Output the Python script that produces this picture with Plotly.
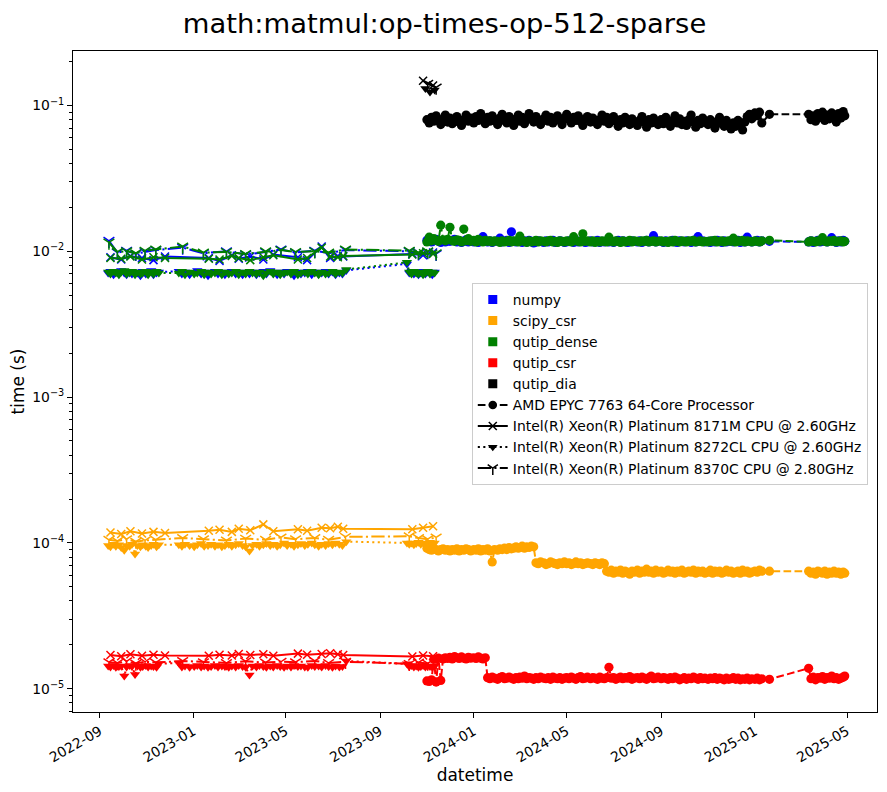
import plotly.graph_objects as go

# libraries -> colour, cpus -> line style / marker (same scheme as the matplotlib plot)
libraries = ["numpy", "scipy_csr", "qutip_dense", "qutip_csr", "qutip_dia"]
lib_colors = ["blue", "orange", "green", "red", "black"]
cpus = ["AMD EPYC 7763 64-Core Processor",
        "Intel(R) Xeon(R) Platinum 8171M CPU @ 2.60GHz",
        "Intel(R) Xeon(R) Platinum 8272CL CPU @ 2.60GHz",
        "Intel(R) Xeon(R) Platinum 8370C CPU @ 2.80GHz"]

x_tick_vals = ["2022-09-01", "2023-01-01", "2023-05-01", "2023-09-01", "2024-01-01",
               "2024-05-01", "2024-09-01", "2025-01-01", "2025-05-01"]
x_tick_text = ["2022-09", "2023-01", "2023-05", "2023-09", "2024-01",
               "2024-05", "2024-09", "2025-01", "2025-05"]
y_tick_vals = [1e-5, 1e-4, 1e-3, 1e-2, 1e-1]
y_tick_text = ["10<sup>−5</sup>", "10<sup>−4</sup>", "10<sup>−3</sup>", "10<sup>−2</sup>", "10<sup>−1</sup>"]

# ---------------------------------------------------------------- AMD EPYC 7763
# run days per month (one line of values per month below)
amd_run_days = {
    "2023-11": [1, 4, 7, 10, 13, 16, 19, 22, 25, 28],
    "2023-12": [1, 4, 7, 10, 13, 16, 19, 22, 25, 28],
    "2024-01": [1, 4, 7, 10, 13, 16, 19, 22, 25, 28],
    "2024-02": [1, 4, 7, 10, 13, 16, 19, 22, 25, 28],
    "2024-03": [1, 4, 7, 10, 13, 16, 19, 22, 25, 28],
    "2024-04": [1, 4, 7, 10, 13, 16, 19, 22, 25, 28],
    "2024-05": [1, 4, 7, 10, 13, 16, 19, 22, 25, 28],
    "2024-06": [1, 4, 7, 10, 13, 16, 19, 22, 25, 28],
    "2024-07": [1, 4, 7, 10, 13, 16, 19, 22, 25, 28],
    "2024-08": [1, 4, 7, 10, 13, 16, 19, 22, 25, 28],
    "2024-09": [1, 4, 7, 10, 13, 16, 19, 22, 25, 28],
    "2024-10": [1, 4, 7, 10, 13, 16, 19, 22, 25, 28],
    "2024-11": [1, 4, 7, 10, 13, 16, 19, 22, 25, 28],
    "2024-12": [1, 4, 7, 10, 13, 16, 19, 22, 25, 28],
    "2025-01": [1, 4, 7, 10, 20],
    "2025-03": [12, 15, 18, 21, 24, 27, 30],
    "2025-04": [2, 5, 8, 11, 14, 17, 20, 23, 26, 28],
}
amd_dates = [f"{m}-{d:02d}" for m, days in amd_run_days.items() for d in days]

amd_numpy_ms = [
    11.9, 12.3, 11.6, 11.8, 12.1, 11.7, 11.5, 11.9, 11.6, 11.8,
    11.7, 11.9, 12.1, 11.6, 11.8, 11.5, 11.7, 12.0, 11.6, 11.8,
    11.6, 11.8, 11.5, 11.9, 12.6, 11.7, 11.6, 11.8, 11.5, 11.7,
    11.8, 12.3, 11.6, 11.7, 11.9, 11.5, 13.6, 11.7, 11.6, 11.8,
    11.7, 11.5, 11.8, 11.6, 11.9, 11.7, 11.4, 11.6, 11.8, 11.7,
    11.5, 11.8, 11.6, 11.7, 11.9, 11.5, 11.6, 11.8, 11.7, 11.5,
    11.6, 11.8, 11.7, 11.5, 11.9, 11.6, 11.7, 11.8, 11.5, 11.6,
    11.8, 11.6, 11.7, 11.9, 11.5, 11.7, 11.6, 11.8, 11.6, 11.7,
    11.5, 11.7, 11.9, 11.6, 11.8, 11.7, 11.5, 11.6, 11.8, 11.7,
    11.6, 11.8, 11.5, 11.7, 11.9, 11.6, 11.7, 12.8, 11.6, 11.8,
    11.7, 11.5, 11.8, 11.6, 11.7, 11.9, 11.6, 11.5, 11.8, 11.7,
    11.6, 11.8, 11.7, 11.5, 11.9, 11.6, 12.6, 11.7, 11.8, 11.6,
    11.7, 11.5, 11.8, 11.6, 11.9, 11.7, 11.5, 11.8, 11.6, 11.7,
    11.8, 11.6, 11.7, 11.9, 11.5, 11.7, 11.6, 12.5, 11.8, 11.6,
    11.7, 11.9, 11.6, 11.8, 11.7,
    11.6, 11.8, 11.5, 11.7, 11.9, 11.6, 11.8,
    11.7, 11.6, 11.8, 12.4, 11.7, 11.5, 11.8, 11.6, 11.9, 11.7]
amd_scipy_us = [
    92, 90, 89, 91, 90, 88, 90, 91, 89, 90,
    88, 90, 89, 91, 88, 90, 89, 91, 90, 88,
    90, 89, 91, 88, 90, 89, 91, 88, 74, 90,
    89, 91, 90, 92, 90, 93, 91, 92, 94, 92,
    93, 95, 92, 94, 93, 95, 94, 73, 72, 74,
    73, 71, 72, 74, 73, 72, 71, 73, 72, 74,
    72, 73, 71, 72, 74, 72, 73, 71, 72, 73,
    72, 71, 73, 72, 71, 73, 72, 64, 63, 65,
    62, 64, 63, 65, 62, 64, 63, 61, 64, 63,
    65, 62, 64, 63, 66, 63, 64, 62, 65, 63,
    64, 62, 63, 65, 63, 64, 62, 64, 63, 65,
    62, 63, 64, 63, 65, 62, 64, 63, 64, 62,
    63, 65, 62, 64, 63, 64, 62, 63, 65, 63,
    64, 62, 63, 64, 62, 65, 63, 64, 62, 63,
    64, 63, 65, 64, 64,
    64, 62, 63, 61, 64, 63, 62,
    64, 61, 63, 62, 64, 62, 63, 61, 63, 62]
amd_dense_ms = [
    11.6, 12.5, 11.8, 12.2, 11.9, 11.7, 15.1, 12.0, 11.8, 12.1,
    14.6, 11.8, 11.7, 12.0, 11.9, 11.6, 14.2, 11.8, 12.2, 11.7,
    11.9, 11.6, 12.1, 11.8, 11.6, 11.9, 11.7, 11.8, 11.6, 11.8,
    11.7, 11.5, 11.8, 11.6, 11.7, 11.9, 11.6, 11.8, 11.7, 11.6,
    12.7, 11.8, 11.7, 11.5, 11.8, 11.6, 11.7, 11.9, 11.6, 11.8,
    11.7, 11.6, 11.8, 11.9, 11.6, 11.7, 11.5, 11.8, 11.7, 11.6,
    11.8, 11.7, 11.6, 12.6, 11.8, 11.7, 11.6, 13.2, 11.7, 11.8,
    11.6, 11.8, 11.5, 11.7, 11.6, 11.8, 11.7, 11.6, 12.5, 11.7,
    11.6, 11.8, 11.7, 11.5, 11.8, 11.6, 11.7, 11.9, 11.6, 11.8,
    11.7, 11.6, 11.8, 11.7, 11.9, 11.6, 11.7, 11.8, 11.6, 11.7,
    11.8, 11.6, 11.7, 11.5, 11.8, 11.6, 11.9, 11.7, 11.6, 11.8,
    11.7, 11.6, 11.8, 11.7, 11.9, 11.6, 11.7, 11.8, 11.6, 11.7,
    11.6, 11.8, 11.7, 11.9, 11.6, 11.7, 11.8, 11.6, 11.7, 11.8,
    11.7, 12.3, 11.6, 11.8, 11.7, 11.9, 11.6, 11.8, 11.7, 11.6,
    11.8, 11.7, 11.6, 11.8, 11.9,
    11.6, 11.8, 11.7, 11.6, 11.8, 11.7, 12.4,
    11.7, 11.6, 11.8, 11.7, 11.9, 11.6, 11.7, 11.8, 11.6, 11.7]
amd_csr_us = [
    11.3, 11.2, 11.5, 15.9, 11.1, 16.2, 11.4, 16.0, 16.3, 16.1,
    16.4, 16.0, 16.6, 16.3, 16.1, 16.5, 16.2, 16.0, 16.4, 16.2,
    16.3, 16.1, 16.5, 16.2, 16.0, 16.3, 11.9, 11.7, 12.0, 11.8,
    11.6, 11.9, 12.1, 11.7, 11.8, 12.0, 11.8, 11.6, 11.9, 11.7,
    12.0, 11.8, 12.2, 11.7, 11.9, 11.8, 11.6, 11.9, 11.7, 12.0,
    11.8, 11.7, 11.9, 11.6, 12.0, 11.8, 11.7, 11.9, 11.6, 11.8,
    11.9, 11.7, 12.0, 11.8, 11.6, 11.9, 12.1, 11.7, 11.8, 12.0,
    11.7, 11.9, 11.8, 11.6, 12.0, 11.8, 11.7, 11.9, 14.0, 11.8,
    11.9, 11.6, 11.8, 12.0, 11.7, 11.9, 11.8, 12.1, 11.6, 11.8,
    11.9, 11.7, 12.0, 11.8, 11.6, 11.9, 12.2, 11.7, 11.8, 12.0,
    11.7, 11.9, 11.8, 11.6, 11.9, 11.7, 12.0, 11.8, 11.5, 11.7,
    11.9, 11.6, 11.8, 11.7, 12.0, 11.8, 11.6, 11.9, 11.7, 11.8,
    11.6, 11.8, 11.7, 11.9, 11.6, 11.8, 11.7, 11.5, 11.8, 11.6,
    11.7, 11.9, 11.6, 11.8, 11.5, 11.7, 11.6, 11.8, 11.5, 11.7,
    11.6, 11.8, 11.5, 11.7, 11.6,
    13.8, 11.7, 12.0, 11.5, 11.9, 11.8, 12.1,
    11.6, 11.9, 11.8, 12.2, 11.7, 11.9, 11.6, 11.8, 12.0, 12.2]
amd_dia_ms = [
    80, 76, 83, 78, 85, 79, 74, 81, 86, 77,
    82, 75, 79, 84, 77, 73, 80, 86, 78, 82,
    76, 84, 79, 88, 81, 75, 83, 78, 85, 80,
    74, 82, 87, 79, 76, 84, 80, 73, 81, 86,
    78, 83, 75, 80, 88, 82, 77, 84, 79, 74,
    81, 86, 78, 83, 76, 80, 85, 79, 74, 82,
    87, 80, 76, 83, 79, 85, 78, 73, 81, 84,
    77, 82, 79, 74, 80, 86, 78, 83, 75, 79,
    84, 78, 72, 80, 76, 83, 79, 74, 81, 77,
    73, 79, 84, 77, 71, 80, 76, 82, 78, 74,
    80, 75, 83, 78, 72, 79, 85, 76, 81, 74,
    78, 73, 80, 86, 77, 71, 79, 75, 82, 77,
    74, 80, 76, 70, 78, 83, 75, 72, 79, 73,
    69, 76, 72, 79, 74, 68, 77, 84, 87, 81,
    89, 85, 90, 76, 87,
    87, 80, 85, 78, 88, 83, 90,
    79, 86, 81, 89, 84, 77, 88, 82, 91, 85]

# ---------------------------------------------------------------- Intel 8171M
i8171_dates = [
    "2022-09-15", "2022-09-29", "2022-10-11", "2022-10-26", "2022-11-10", "2022-11-25",
    "2023-01-21", "2023-02-04", "2023-02-20", "2023-03-01", "2023-03-16", "2023-04-02",
    "2023-04-15", "2023-05-17", "2023-05-29", "2023-06-17", "2023-06-28", "2023-07-08",
    "2023-07-15", "2023-10-13", "2023-10-27", "2023-11-09"]
i8171_numpy_ms = [9.1, 8.8, 9.3, 9.0, 8.7, 9.2, 9.0, 8.6, 9.4, 8.9, 9.2,
                  8.8, 9.5, 9.1, 8.7, 10.8, 9.0, 9.3, 9.2, 9.6, 9.4, 9.8]
i8171_scipy_us = [118, 115, 120, 116, 119, 117, 121, 123, 119, 125, 122,
                  134, 120, 124, 121, 127, 126, 129, 125, 124, 127, 130]
i8171_dense_ms = [9.0, 8.9, 9.2, 8.8, 9.1, 9.0, 8.9, 8.8, 9.3, 9.0, 8.7,
                  9.1, 9.4, 8.8, 9.0, 10.6, 9.2, 9.1, 9.3, 9.5, 9.7, 9.6]
i8171_csr_us = [17.0, 16.7, 17.2, 16.8, 17.1, 16.9, 16.8, 17.1, 16.9, 17.3, 17.0,
                17.2, 16.8, 17.4, 17.1, 17.3, 17.5, 17.2, 17.0, 16.6, 16.9, 16.7]
i8171_dia_dates = ["2023-10-27", "2023-11-09"]
i8171_dia_ms = [148, 137]

# ---------------------------------------------------------------- Intel 8272CL
i8272_dates = [
    "2022-09-12", "2022-09-15", "2022-09-19", "2022-09-22", "2022-09-26", "2022-09-29",
    "2022-10-03", "2022-10-06", "2022-10-10", "2022-10-13", "2022-10-17", "2022-10-20",
    "2022-10-24", "2022-10-27", "2022-10-31", "2022-11-03", "2022-11-07", "2022-11-10",
    "2022-11-14", "2022-11-17",
    "2022-12-13", "2022-12-17", "2022-12-21", "2022-12-27", "2023-01-02", "2023-01-06",
    "2023-01-11", "2023-01-15", "2023-01-20", "2023-01-24", "2023-01-29", "2023-02-02",
    "2023-02-07", "2023-02-11", "2023-02-16", "2023-02-20", "2023-02-25", "2023-03-01",
    "2023-03-06", "2023-03-10", "2023-03-15", "2023-03-19", "2023-03-24", "2023-03-28",
    "2023-04-02", "2023-04-06", "2023-04-11", "2023-04-15", "2023-04-20", "2023-04-24",
    "2023-04-29", "2023-05-03", "2023-05-08", "2023-05-12", "2023-05-17", "2023-05-21",
    "2023-05-26", "2023-05-30", "2023-06-04", "2023-06-08", "2023-06-13", "2023-06-17",
    "2023-06-22", "2023-06-26", "2023-07-01", "2023-07-05", "2023-07-10", "2023-07-14",
    "2023-07-19",
    "2023-10-06", "2023-10-09", "2023-10-12", "2023-10-15", "2023-10-18", "2023-10-21",
    "2023-10-24", "2023-10-27", "2023-10-30", "2023-11-02", "2023-11-05", "2023-11-08",
    "2023-11-11"]
i8272_numpy_ms = [
    7.1, 7.3, 6.9, 7.2, 7.0, 7.4, 7.1, 6.9, 7.3, 7.0, 7.2, 7.1, 6.8, 7.3, 7.0, 7.2, 7.4, 6.9, 7.1, 7.2,
    7.3, 7.0, 7.2, 6.9, 7.1, 7.4, 7.0, 7.2, 6.8, 7.1, 7.3, 7.0, 7.2, 6.9, 7.1, 7.3, 7.0, 7.2, 6.9, 7.1,
    7.0, 7.2, 6.9, 7.1, 7.3, 7.0, 7.4, 7.1, 6.9, 7.2, 7.0, 7.3, 7.1, 6.8, 7.2, 7.0, 7.1, 7.3, 6.9, 7.2,
    7.0, 7.1, 7.3, 7.0, 7.2, 6.9, 7.1, 7.0, 7.4,
    8.2, 7.1, 7.3, 7.0, 7.2, 6.9, 7.1, 7.3, 7.0, 7.2, 7.1, 6.9, 7.2]
i8272_scipy_us = [
    96, 94, 98, 95, 97, 93, 89, 96, 95, 98, 84, 96, 94, 97, 95, 93, 96, 98, 94, 97,
    97, 95, 98, 96, 94, 97, 99, 95, 96, 98, 95, 97, 94, 96, 98, 95, 97, 99, 96, 94,
    88, 96, 98, 95, 97, 99, 96, 98, 95, 97, 100, 96, 98, 95, 97, 99, 96, 98, 100, 97,
    95, 98, 96, 99, 97, 100, 98, 96, 102,
    100, 98, 100, 97, 99, 101, 98, 100, 97, 99, 101, 98, 100]
i8272_dense_ms = [
    7.2, 7.0, 7.3, 7.1, 6.9, 7.2, 7.4, 7.0, 7.1, 7.3, 6.9, 7.2, 7.0, 7.1, 7.3, 6.9, 7.2, 7.0, 7.3, 7.1,
    7.1, 7.3, 6.9, 7.2, 7.0, 7.1, 7.3, 6.9, 7.2, 7.0, 7.1, 7.3, 6.9, 7.2, 7.0, 7.1, 7.3, 6.9, 7.2, 7.0,
    7.3, 7.1, 7.0, 7.2, 6.8, 7.1, 7.3, 7.0, 7.2, 6.9, 7.1, 7.2, 7.0, 7.3, 6.9, 7.1, 7.2, 7.0, 7.3, 7.1,
    6.9, 7.2, 7.0, 7.1, 7.3, 7.0, 7.2, 7.1, 7.5,
    8.4, 7.2, 7.0, 7.3, 7.1, 7.0, 7.2, 6.9, 7.1, 7.3, 7.0, 7.2, 7.1]
i8272_csr_us = [
    14.3, 14.1, 14.4, 14.0, 14.2, 14.3, 12.2, 14.1, 14.4, 14.2, 12.5, 14.3, 14.0, 14.2, 14.4, 14.1,
    14.3, 14.2, 14.0, 14.8,
    15.0, 14.1, 14.3, 14.0, 14.2, 14.4, 14.1, 14.3, 14.0, 14.2, 14.4, 14.1, 14.3, 14.2, 14.0, 14.3,
    14.1, 14.4, 14.2, 14.0, 12.4, 14.3, 14.1, 14.4, 14.2, 14.0, 14.3, 14.1, 14.4, 14.2, 14.0, 14.3,
    14.1, 14.4, 14.2, 14.3, 14.1, 14.0, 14.4, 14.2, 14.3, 14.1, 14.4, 14.2, 14.0, 14.3, 14.1, 14.2,
    15.5,
    14.8, 14.2, 14.4, 14.1, 14.3, 14.0, 14.2, 14.4, 14.1, 14.3, 14.2, 14.0, 14.3]
i8272_dia_dates = ["2023-10-30", "2023-11-05", "2023-11-11"]
i8272_dia_ms = [131, 124, 128]

# ---------------------------------------------------------------- Intel 8370C
i8370_dates = [
    "2022-09-13", "2022-09-24", "2022-10-06", "2022-10-18", "2022-10-30", "2022-11-13",
    "2022-12-18", "2023-01-14", "2023-02-13", "2023-03-10", "2023-04-05", "2023-04-25",
    "2023-05-14", "2023-06-08", "2023-06-26", "2023-07-18",
    "2023-10-09", "2023-10-21", "2023-11-02", "2023-11-13"]
i8370_numpy_ms = [11.8, 9.8, 10.1, 9.6, 9.9, 10.2, 10.6, 9.7, 10.0, 9.5,
                  9.9, 10.3, 9.8, 10.1, 9.7, 10.2, 10.0, 9.7, 9.9, 9.6]
i8370_scipy_us = [105, 103, 106, 102, 104, 105, 108, 106, 104, 107,
                  105, 109, 106, 108, 105, 110, 111, 108, 106, 109]
i8370_dense_ms = [11.5, 9.9, 10.0, 9.7, 10.1, 10.3, 10.8, 9.8, 9.9, 9.6,
                  10.0, 10.2, 9.9, 10.0, 9.8, 10.3, 10.1, 9.8, 10.0, 9.7]
i8370_csr_us = [15.2, 15.0, 15.4, 14.9, 15.3, 15.1, 15.5, 15.2, 15.0, 15.4,
                15.1, 15.3, 15.2, 15.5, 15.0, 15.3, 14.8, 15.1, 14.9, 15.2]
i8370_dia_dates = ["2023-11-02", "2023-11-13"]
i8370_dia_ms = [141, 133]


def ms(vals):
    return [v * 1e-3 for v in vals]


def us(vals):
    return [v * 1e-6 for v in vals]


# [library][cpu] -> (dates, seconds)
data = {
    "numpy": [(amd_dates, ms(amd_numpy_ms)), (i8171_dates, ms(i8171_numpy_ms)),
              (i8272_dates, ms(i8272_numpy_ms)), (i8370_dates, ms(i8370_numpy_ms))],
    "scipy_csr": [(amd_dates, us(amd_scipy_us)), (i8171_dates, us(i8171_scipy_us)),
                  (i8272_dates, us(i8272_scipy_us)), (i8370_dates, us(i8370_scipy_us))],
    "qutip_dense": [(amd_dates, ms(amd_dense_ms)), (i8171_dates, ms(i8171_dense_ms)),
                    (i8272_dates, ms(i8272_dense_ms)), (i8370_dates, ms(i8370_dense_ms))],
    "qutip_csr": [(amd_dates, us(amd_csr_us)), (i8171_dates, us(i8171_csr_us)),
                  (i8272_dates, us(i8272_csr_us)), (i8370_dates, us(i8370_csr_us))],
    "qutip_dia": [(amd_dates, ms(amd_dia_ms)), (i8171_dia_dates, ms(i8171_dia_ms)),
                  (i8272_dia_dates, ms(i8272_dia_ms)), (i8370_dia_dates, ms(i8370_dia_ms))],
}
for lib in libraries:
    for dates, vals in data[lib]:
        assert len(dates) == len(vals), (lib, len(dates), len(vals))

# matplotlib styles: '--o', '-x', ':v', '-.1'
cpu_dash = ["7.7px,3.3px", "solid", "2.1px,3.4px", "13.3px,3.3px,2.1px,3.3px"]
cpu_symbol = ["circle", "x-thin", "triangle-down", "y-down"]
cpu_msize = [9.2, 8, 9, 9]


def marker(sym, size, color):
    if sym in ("x-thin", "y-down"):
        return dict(symbol=sym, size=size, color=color, line=dict(width=1.5, color=color))
    return dict(symbol=sym, size=size, color=color, line=dict(width=0))


fig = go.Figure()

for lib, color in zip(libraries, lib_colors):
    for i, (dates, vals) in enumerate(data[lib]):
        fig.add_trace(go.Scatter(
            x=dates, y=vals, mode="lines+markers",
            line=dict(color=color, width=2, dash=cpu_dash[i]),
            marker=marker(cpu_symbol[i], cpu_msize[i], color),
            showlegend=False, hoverinfo="skip"))

# legend handles
for lib, color in zip(libraries, lib_colors):
    fig.add_trace(go.Scatter(x=[None], y=[None], mode="markers", name=lib,
                             marker=dict(symbol="square", size=9, color=color)))
for i, cpu in enumerate(cpus):
    fig.add_trace(go.Scatter(x=[None], y=[None], mode="lines+markers", name=cpu,
                             line=dict(color="black", width=2, dash=cpu_dash[i]),
                             marker=marker(cpu_symbol[i], min(cpu_msize[i], 8.5), "black")))

minor_vals = [m * 10.0 ** e for e in range(-6, 0) for m in range(2, 10)]

# the page puts the plot 8px in from the top-left corner, so the figure is 8px smaller
fig.update_layout(
    width=879, height=784,
    margin=dict(l=65, r=10, t=43, b=80),
    paper_bgcolor="white", plot_bgcolor="white",
    font=dict(family="DejaVu Sans", size=13.9, color="black"),
    title=dict(text="math:matmul:op-times-op-512-sparse", x=0.4966, xanchor="center",
               y=0.981, yanchor="middle", font=dict(size=27.4)),
    legend=dict(x=0.496, y=0.649, xanchor="left", yanchor="top",
                bordercolor="#cccccc", borderwidth=1, bgcolor="rgba(255,255,255,0.8)",
                font=dict(size=13.9)),
)
fig.update_xaxes(
    type="date", range=["2022-07-28 05:00", "2025-06-09"], automargin=False,
    tickmode="array", tickvals=x_tick_vals, ticktext=x_tick_text, tickangle=-30,
    ticks="outside", ticklen=5, tickwidth=1, tickcolor="black",
    showline=True, linecolor="black", linewidth=1, mirror=True,
    showgrid=False, zeroline=False,
    title=dict(text="datetime", standoff=4),
)
fig.update_yaxes(
    type="log", range=[-5.160, -0.626], automargin=False,
    tickmode="array", tickvals=y_tick_vals, ticktext=y_tick_text,
    ticks="outside", ticklen=5, tickwidth=1, tickcolor="black",
    minor=dict(tickmode="array", tickvals=minor_vals, ticks="outside",
               ticklen=3, tickwidth=0.8, tickcolor="black", showgrid=False),
    showline=True, linecolor="black", linewidth=1, mirror=True,
    showgrid=False, zeroline=False,
    title=dict(text="time (s)", standoff=7),
)

fig.write_html("out.html")
